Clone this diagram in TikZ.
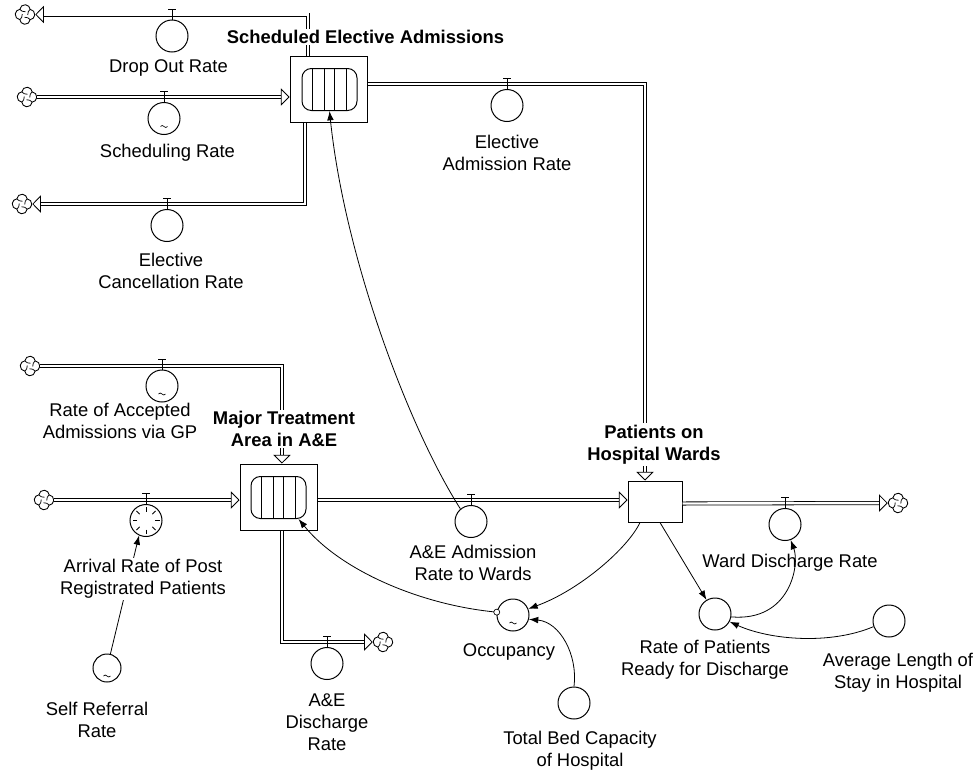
\documentclass[tikz,border=0pt]{standalone}
\usepackage{fontspec}
\setmainfont{Liberation Sans}
\usetikzlibrary{arrows.meta}
\begin{document}
\begin{tikzpicture}[x=0.75pt, y=-0.75pt,
  txt/.style={font=\fontsize{13.8}{16.4}\selectfont, align=center, inner sep=0pt},
  btxt/.style={font=\fontsize{13.8}{16.4}\selectfont\bfseries, align=center, fill=white, inner sep=1.2pt},
  conv/.style={circle, draw, line width=0.75pt, minimum size=24pt, inner sep=0pt},
  stock/.style={draw, line width=0.75pt, inner sep=0pt},
  convey/.style={draw, line width=0.75pt, rounded corners=7pt, minimum width=41.25pt, minimum height=31.5pt, inner sep=0pt,
    path picture={\foreach \d in {-12.4,-4.1,4.1,12.4}
      \draw[line width=0.75pt] ([xshift=\d pt]path picture bounding box.north) -- ([xshift=\d pt]path picture bounding box.south);}},
  cloud/.style={circle, minimum size=15pt, inner sep=0pt},
  pipe/.style={line width=0.6pt, double distance=1.8pt},
  inflow/.style={pipe, -{Triangle[open, length=6.5pt, width=13pt, line width=0.6pt]}},
  link/.style={line width=0.6pt, -{Latex[length=7pt, width=5pt]}},
  valvecap/.pic={\draw[line width=0.6pt] (0,0) -- (0,-10.5) (-4,-10.5) -- (4,-10.5);},
  tilde/.pic={\draw[line width=0.5pt] (-3.5,0) .. controls (-1.5,-3.5) and (1.5,3.5) .. (3.5,0);},
  clockface/.pic={\foreach \a in {0,45,...,315} \draw[line width=0.6pt] (\a:9) -- (\a:13.5);},
  cloudpic/.pic={\foreach \t in {0,90,180,270}{
     \draw[line width=0.65pt] (\t:4.6) ++(\t-84:5.2) arc[start angle=\t-84, end angle=\t+84, radius=5.2];
     \draw[line width=0.55pt] (\t+45:7.2) .. controls (\t+45:4.3) .. (\t+100:2.8);}}
]
% canvas
\fill[white] (0,0) rectangle (977,771);

% stocks
\node[stock, minimum width=57.75pt, minimum height=49.5pt] (s1) at (328.5,89) {};
\node[convey] (s1in) at (329.5,89.5) {};
\node[stock, minimum width=57.75pt, minimum height=49.5pt] (m1) at (278.5,497) {};
\node[convey] (m1in) at (278.5,497.5) {};
\node[stock, minimum width=40.5pt, minimum height=30.75pt] (p1) at (655,501.5) {};

% sources and sinks
\node[cloud] (cl1) at (25,14.5) {};
\node[cloud] (cl2) at (27,97) {};
\node[cloud] (cl3) at (22,204) {};
\node[cloud] (cl4) at (30,366) {};
\node[cloud] (cl5) at (44,500) {};
\node[cloud] (cl6) at (898,503) {};
\node[cloud] (cl7) at (383,642) {};
\foreach \c in {cl1,cl2,cl3,cl4,cl5,cl6,cl7} \pic at (\c) {cloudpic};

% flow pipes
\draw[inflow] ([xshift=-15.4pt]s1.north) |- (cl1);
\draw[inflow] (cl2) -- (s1.west |- cl2);
\draw[inflow] ([xshift=-17.6pt]s1.south) |- (cl3);
\draw[inflow] ([yshift=3.75pt]s1.east) -| ([xshift=-7.5pt]p1.north);
\draw[inflow] (cl4) -| ([xshift=2.6pt]m1.north);
\draw[inflow] (cl5) -- (m1.west |- cl5);
\draw[inflow] (m1.east |- 0,500) -- (p1.west |- 0,500);
\draw[inflow] ([yshift=-1.5pt]p1.east) -- (cl6);
\draw[inflow] ([xshift=2.6pt]m1.south) |- (cl7);

% valves
\node[conv] (v1) at (172,36) {};
\node[conv] (v2) at (164,118.5) {};
\node[conv] (v3) at (167,225.5) {};
\node[conv] (v4) at (507,105.5) {};
\node[conv] (v5) at (162,386) {};
\node[conv] (v6) at (146,520.5) {};
\node[conv] (v7) at (471,521.5) {};
\node[conv] (v8) at (785,524.5) {};
\node[conv] (v9) at (327,663.5) {};
\foreach \v in {v1,v2,v3,v4,v5,v6,v7,v8,v9} \pic at (\v.north) {valvecap};

% auxiliaries and constants
\node[conv] (occ) at (513,615) {};
\node[conv] (bed) at (574,703) {};
\node[conv] (rpr) at (715,614) {};
\node[conv] (avg) at (889,621) {};
\node[conv, minimum size=21pt] (self) at (107,668) {};

\foreach \v in {v2,v5,occ,self} \pic at ([yshift=-6pt]\v.center) {tilde};
\pic at (v6) {clockface};

% information links
\draw[link] (v7.130) .. controls (410,430) and (345,260) .. (s1in.south);
\draw[link] (occ.170) .. controls (420,605) and (340,570) .. (m1in.-47);
\node[circle, draw, line width=0.5pt, fill=white, minimum size=4.5pt, inner sep=0pt] (pol) at (occ.170) {};
\draw[link] ([xshift=-11.25pt]p1.south) .. controls (628,548) and (580,590) .. (occ.22);
\draw[link] (bed.north) .. controls (578,655) and (560,622) .. (occ.-15);
\draw[link] ([xshift=3.75pt]p1.south) -- (rpr);
\draw[link] (rpr.-10) .. controls (790,622) and (800,565) .. (v8.-70);
\draw[link] (avg.-160) .. controls (830,645) and (770,640) .. (rpr.-28);
\draw[link] (self) -- (v6.-115);

% labels
\node[txt] (t1) at (168.5,68) {Drop Out Rate};
\node[txt] (t2) at (167.5,153) {Scheduling Rate};
\node[txt] (t3) at (171,271) {Elective\\Cancellation Rate};
\node[txt] (t4) at (507,152.5) {Elective\\Admission Rate};
\node[txt] (t5) at (120,421) {Rate of Accepted\\Admissions via GP};
\node[txt, fill=white, inner sep=1pt] (t6) at (143,579) {Arrival Rate of Post\\Registrated Patients};
\node[txt] (t7) at (97,720) {Self Referral\\Rate};
\node[txt] (t8) at (327,722) {A\&E\\Discharge\\Rate};
\node[txt] (t9) at (473,562.5) {A\&E Admission\\Rate to Wards};
\node[txt] (t10) at (509,652) {Occupancy};
\node[txt] (t11) at (580,751) {Total Bed Capacity\\of Hospital};
\node[txt] (t12) at (705,660) {Rate of Patients\\Ready for Discharge};
\node[txt] (t13) at (790,563) {Ward Discharge Rate};
\node[txt] (t14) at (898,672.5) {Average Length of\\Stay in Hospital};
\node[btxt] (b1) at (365.5,37) {Scheduled Elective Admissions};
\node[btxt] (b2) at (284,429) {Major Treatment\\Area in A\&E};
\node[btxt] (b3) at (654,444.5) {Patients on\\Hospital Wards};
\end{tikzpicture}
\end{document}
